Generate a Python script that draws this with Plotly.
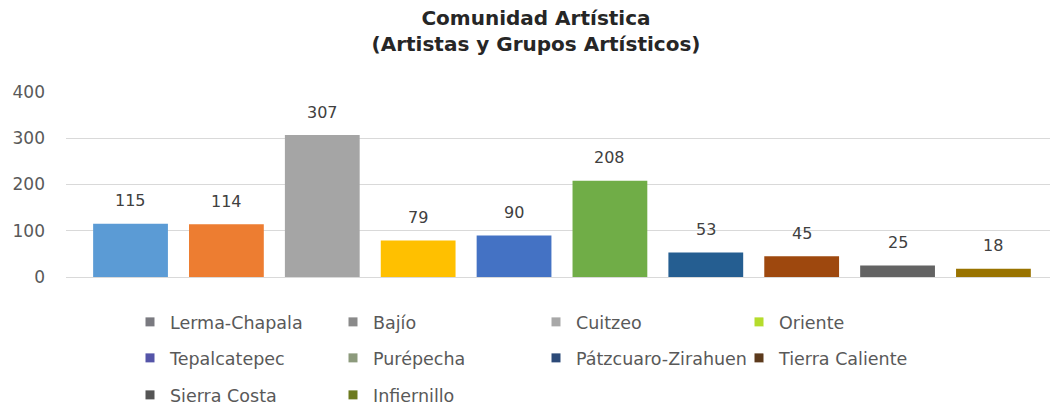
import plotly.graph_objects as go

regions = ["Lerma-Chapala", "Bajío", "Cuitzeo", "Oriente", "Tepalcatepec",
           "Purépecha", "Pátzcuaro-Zirahuen", "Tierra Caliente", "Sierra Costa", "Infiernillo"]
values = [115, 114, 307, 79, 90, 208, 53, 45, 25, 18]
bar_colors = ["#5b9bd5", "#ed7d31", "#a5a5a5", "#ffc000", "#4472c4",
              "#70ad47", "#255e91", "#9e480e", "#636363", "#997300"]
legend_colors = ["#7a7a80", "#8a8a8a", "#a8a8a8", "#b5dc2c", "#5555a8",
                 "#8c9a7c", "#2c4a78", "#5c3a1c", "#555555", "#6c7a1e"]
legend_rows = [1, 1, 1, 1, 2, 2, 2, 2, 3, 3]
y_ticks = [0, 100, 200, 300, 400]

FONT = "DejaVu Sans"

fig = go.Figure()
fig.add_trace(go.Bar(
    x=regions, y=values, marker=dict(color=bar_colors, line=dict(width=0)),
    width=0.78, showlegend=False, hoverinfo="x+y"))

for name, col, row in zip(regions, legend_colors, legend_rows):
    fig.add_trace(go.Scatter(
        x=[None], y=[None], mode="markers", name=name,
        marker=dict(symbol="square", size=9, color=col),
        legend="legend" if row == 1 else f"legend{row}"))

for r, v in zip(regions, values):
    fig.add_annotation(x=r, y=v, text=str(v), showarrow=False, yshift=23,
                       yanchor="middle", font=dict(family=FONT, size=16, color="#404040"))

row_y = {1: 322, 2: 358, 3: 395}
legend_common = dict(orientation="h", xref="container", yref="container",
                     x=130 / 1050, xanchor="left", yanchor="middle",
                     entrywidth=158, entrywidthmode="pixels",
                     font=dict(family=FONT, size=17.5, color="#595959"),
                     bgcolor="rgba(0,0,0,0)", itemclick=False)

fig.update_layout(
    width=1050, height=411,
    paper_bgcolor="white", plot_bgcolor="white",
    margin=dict(l=66, r=0, t=92, b=134, autoexpand=False),
    title=dict(text="Comunidad Artística<br>(Artistas y Grupos Artísticos)",
               x=536 / 1050, xref="container", xanchor="center",
               y=1 - 25 / 411, yref="container", yanchor="top",
               font=dict(family=FONT, size=20, color="#262626", weight="bold")),
    legend=dict(y=1 - row_y[1] / 411, **legend_common),
    legend2=dict(y=1 - row_y[2] / 411, **legend_common),
    legend3=dict(y=1 - row_y[3] / 411, **legend_common),
    xaxis=dict(range=[-0.673, 9.59], showticklabels=False, showgrid=False,
               zeroline=False, showline=False, ticks=""),
    yaxis=dict(range=[0, 400], tickvals=y_ticks, showgrid=True, gridcolor="#d9d9d9",
               gridwidth=1, zeroline=True, zerolinecolor="#d9d9d9", zerolinewidth=1,
               showline=False, ticks="", ticklabelstandoff=20, automargin=False,
               tickfont=dict(family=FONT, size=17, color="#595959")),
    bargap=0.2,
)

fig.write_html("out.html", config={"displayModeBar": False},
               post_script="document.body.style.margin='0';")
